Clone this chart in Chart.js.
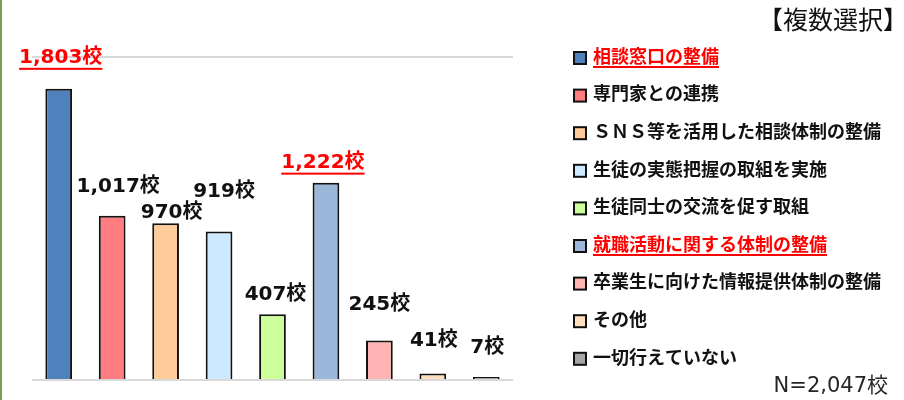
<!DOCTYPE html>
<html>
<head>
<meta charset="utf-8">
<script src="https://cdn.jsdelivr.net/npm/chart.js@4"></script>
<style>
  html, body { margin: 0; padding: 0; background: #fff; }
  #wrap { width: 904px; height: 400px; position: relative; }
</style>
</head>
<body>
<div id="wrap"><canvas id="measuresChart"></canvas></div>
<script>
// Data for the chart
const categories = [
  "相談窓口の整備",
  "専門家との連携",
  "ＳＮＳ等を活用した相談体制の整備",
  "生徒の実態把握の取組を実施",
  "生徒同士の交流を促す取組",
  "就職活動に関する体制の整備",
  "卒業生に向けた情報提供体制の整備",
  "その他",
  "一切行えていない"
];
const schoolCounts = [1803, 1017, 970, 919, 407, 1222, 245, 41, 7];
const highlighted = [true, false, false, false, false, true, false, false, false];
const yTicks = [0, 2000];

const barColors = ["#4f81bd", "#ff7c80", "#ffcc99", "#cce9ff", "#ccff99", "#9bb7da", "#ffb3b3", "#ffdfbf", "#a6a6a6"];
// where each value label sits relative to the top centre of its bar
const labelOffsets = [[2, -31], [6, -29], [6, -11], [5, -40], [3, -19], [-3, -20], [0, -36], [1, -33], [1, -29]];

const fmt = (v) => v.toLocaleString("en-US") + "校";

function underlinedText(ctx, text, x, y, color) {
  ctx.fillStyle = color;
  ctx.fillText(text, x, y);
  if (color === "#ff0000") {
    const w = ctx.measureText(text).width;
    let left = x;
    if (ctx.textAlign === "center") left = x - w / 2;
    ctx.fillRect(left, y + 10, w, 2);
  }
}

// value labels, legend and the side notes
const extrasPlugin = {
  id: "extras",
  afterDatasetsDraw(chart) {
    const ctx = chart.ctx;
    const meta = chart.getDatasetMeta(0);
    ctx.save();
    ctx.font = "bold 20px 'DejaVu Sans', 'Noto Sans CJK JP', sans-serif";
    ctx.textAlign = "center";
    ctx.textBaseline = "middle";
    meta.data.forEach((bar, i) => {
      const [dx, dy] = labelOffsets[i];
      const color = highlighted[i] ? "#ff0000" : "#111111";
      underlinedText(ctx, fmt(schoolCounts[i]), bar.x + dx, bar.y + dy, color);
    });
    ctx.restore();
  },
  afterDraw(chart) {
    const ctx = chart.ctx;
    ctx.save();
    // green frame edge on the left
    ctx.fillStyle = "#7f9f4a";
    ctx.fillRect(0, 0, 2, chart.height);

    // legend
    ctx.textAlign = "left";
    ctx.textBaseline = "middle";
    ctx.font = "bold 18px 'Noto Sans CJK JP', sans-serif";
    categories.forEach((name, i) => {
      const y = 56 + i * 37.6;
      ctx.fillStyle = barColors[i];
      ctx.fillRect(574, y - 4, 12, 12);
      ctx.strokeStyle = "#111";
      ctx.lineWidth = 2;
      ctx.strokeRect(574, y - 4, 12, 12);
      underlinedText(ctx, name, 593, y, highlighted[i] ? "#ff0000" : "#111111");
    });

    ctx.font = "25px 'Noto Sans CJK JP', sans-serif";
    ctx.fillStyle = "#111";
    ctx.textAlign = "right";
    ctx.fillText("【複数選択】", 908, 19);

    ctx.font = "21px 'DejaVu Sans', 'Noto Sans CJK JP', sans-serif";
    ctx.fillStyle = "#262626";
    ctx.fillText("N=2,047校", 888, 387);
    ctx.restore();
  }
};

const config = {
  type: "bar",
  data: {
    labels: categories,
    datasets: [{
      data: schoolCounts,
      backgroundColor: barColors,
      borderColor: "#111111",
      borderWidth: 2,
      minBarLength: 3,
      categoryPercentage: 1,
      barPercentage: 0.5
    }]
  },
  options: {
    responsive: true,
    maintainAspectRatio: false,
    animation: false,
    layout: { padding: { left: 32, right: 391, top: 57, bottom: 20 } },
    plugins: {
      legend: { display: false },
      tooltip: { enabled: false }
    },
    scales: {
      x: { display: false },
      y: {
        min: 0,
        max: 2000,
        afterBuildTicks: (axis) => { axis.ticks = yTicks.map(v => ({ value: v })); },
        ticks: { display: false },
        grid: { color: "#d9d9d9", lineWidth: 2, drawTicks: false },
        border: { display: false }
      }
    }
  },
  plugins: [extrasPlugin]
};

window.addEventListener("DOMContentLoaded", () => {
  const measuresChart = new Chart(document.getElementById("measuresChart"), config);
});
</script>
</body>
</html>
